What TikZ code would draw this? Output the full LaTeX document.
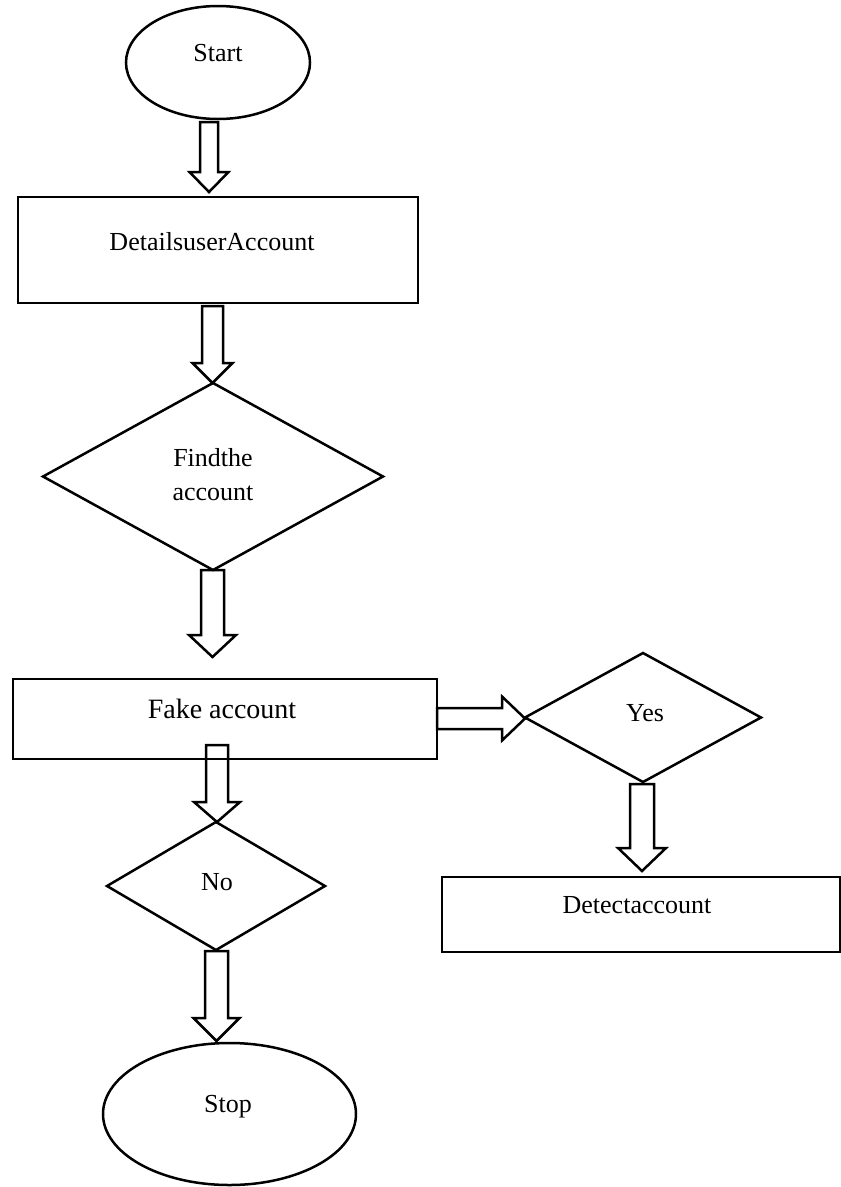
\documentclass[tikz,border=0pt]{standalone}
\usepackage{fontspec}
\setmainfont{Liberation Serif}
\usetikzlibrary{shapes.geometric}
\newcommand\blkdown[6]{% x, ytop, yhead, ytip, shaft half, head half
  \draw[blk] (#1-#5,#2) -- (#1-#5,#3) -- (#1-#6,#3) -- (#1,#4) -- (#1+#6,#3) -- (#1+#5,#3) -- (#1+#5,#2) -- cycle;}
\newcommand\blkright[6]{% y, xleft, xhead, xtip, shaft half, head half
  \draw[blk] (#2,#1-#5) -- (#3,#1-#5) -- (#3,#1-#6) -- (#4,#1) -- (#3,#1+#6) -- (#3,#1+#5) -- (#2,#1+#5) -- cycle;}
\begin{document}
\begin{tikzpicture}[x=1pt,y=-1pt,
  shapebox/.style={draw=black, line width=2.5pt, inner sep=0pt, outer sep=0pt},
  term/.style={shapebox, ellipse},
  proc/.style={shapebox, rectangle},
  dec/.style={shapebox, diamond},
  lbl/.style={font=\fontsize{26}{34}\selectfont, inner sep=0pt, align=center},
  blk/.style={draw=black, line width=2.5pt, line join=miter}]
\useasboundingbox (0,0) rectangle (841,1187);
% shapes
\node[term, minimum width=184pt, minimum height=113pt] (start) at (218,62.5) {};
\node[proc, minimum width=400pt, minimum height=106pt] (details) at (218,250) {};
\node[dec, minimum width=340pt, minimum height=187pt] (find) at (213,476.5) {};
\node[proc, minimum width=424pt, minimum height=80pt] (fake) at (225,719) {};
\node[dec, minimum width=236pt, minimum height=129pt] (yes) at (643,717.5) {};
\node[proc, minimum width=398pt, minimum height=75pt] (detect) at (641,914.5) {};
\node[dec, minimum width=218pt, minimum height=128pt] (no) at (216,886) {};
\node[term, minimum width=253pt, minimum height=142pt] (stop) at (229.5,1114) {};
% labels
\node[lbl] (tstart) at (218,53) {Start};
\node[lbl] (tdetails) at (212,242) {DetailsuserAccount};
\node[lbl] (tfind) at (213,475) {Findthe\\account};
\node[lbl, font=\fontsize{28}{34}\selectfont] (tfake) at (222,709) {Fake account};
\node[lbl] (tyes) at (645,713) {Yes};
\node[lbl] (tdetect) at (637,905) {Detectaccount};
\node[lbl] (tno) at (217,882) {No};
\node[lbl] (tstop) at (228,1107) {Stop};
% block arrows (start -> details -> find -> fake -> no -> stop; fake -> yes -> detect)
\blkdown{209}{122}{172}{192}{9}{19.5}
\blkdown{212.5}{306}{363}{383}{10.5}{20}
\blkdown{212.5}{570}{635}{657}{11.5}{23.5}
\blkdown{217}{745}{802}{822}{11}{23}
\blkdown{216.5}{951}{1018}{1041}{11.5}{23}
\blkdown{642}{784}{848}{871}{12}{24}
\blkright{718.5}{437}{502}{525}{10.5}{22}
\end{tikzpicture}
\end{document}
